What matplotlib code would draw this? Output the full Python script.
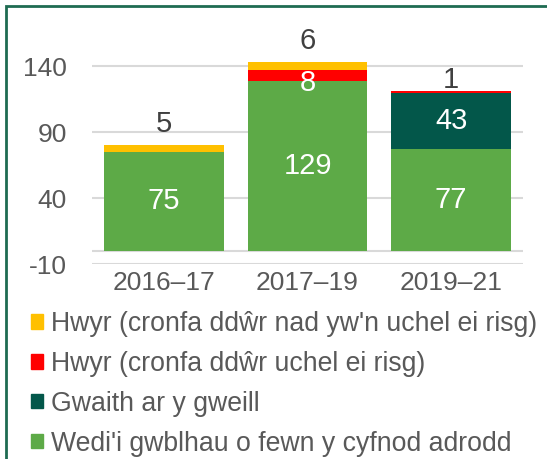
import matplotlib
matplotlib.use("Agg")
import matplotlib.pyplot as plt
from matplotlib.patches import Rectangle, Patch
import numpy as np

plt.rcParams['font.family'] = ['Liberation Sans', 'DejaVu Sans']
plt.rcParams['axes.unicode_minus'] = False

categories = ["2016–17", "2017–19", "2019–21"]
completed = [75, 129, 77]
ongoing = [0, 0, 43]
late_high = [0, 8, 1]
late_not_high = [5, 6, 0]

series_names = [
    "Hwyr (cronfa ddŵr nad yw'n uchel ei risg)",
    "Hwyr (cronfa ddŵr uchel ei risg)",
    "Gwaith ar y gweill",
    "Wedi'i gwblhau o fewn y cyfnod adrodd",
]
yticks = [-10, 40, 90, 140]

c_yellow = "#FFC000"
c_red = "#FF0000"
c_dark = "#03574A"
c_green = "#5DAA47"
text_gray = "#595959"

W, H = 547, 459
fig = plt.figure(figsize=(W / 100, H / 100), dpi=100)
ax = fig.add_axes([92 / W, (H - 264) / H, 431 / W, 224 / H])

x = np.arange(len(categories))
bw = 0.835
b1 = np.array(completed, dtype=float)
b2 = b1 + np.array(ongoing)
b3 = b2 + np.array(late_high)

ax.bar(x, completed, bw, color=c_green, zorder=2)
ax.bar(x, ongoing, bw, bottom=b1, color=c_dark, zorder=2)
ax.bar(x, late_high, bw, bottom=b2, color=c_red, zorder=2)
ax.bar(x, late_not_high, bw, bottom=b3, color=c_yellow, zorder=2)

fs_lab = 21
for i in range(len(x)):
    ax.text(x[i], completed[i] / 2, str(completed[i]), ha="center", va="center",
            color="white", fontsize=fs_lab, zorder=3)
    if ongoing[i] > 0:
        ax.text(x[i], b1[i] + ongoing[i] / 2, str(ongoing[i]), ha="center", va="center",
                color="white", fontsize=fs_lab, zorder=3)
    if late_high[i] >= 5:
        ax.text(x[i], b2[i] + late_high[i] / 2 - 6, str(late_high[i]), ha="center", va="center",
                color="white", fontsize=fs_lab, zorder=3)
    total = b3[i] + late_not_high[i]
    if late_not_high[i] > 0:
        ax.text(x[i], total + 16, str(late_not_high[i]), ha="center", va="center",
                color="#404040", fontsize=fs_lab, zorder=3, clip_on=False)
    elif 0 < late_high[i] < 5:
        ax.text(x[i], total + 9, str(late_high[i]), ha="center", va="center",
                color="#404040", fontsize=fs_lab, zorder=3, clip_on=False)

ax.set_xlim(-0.5, 2.5)
ax.set_ylim(-10, 160)
ax.set_yticks(yticks)
ax.set_xticks(x)
ax.set_xticklabels(categories)
ax.axhline(0, color="#D9D9D9", lw=1.5, zorder=1)
ax.grid(axis="y", color="#D9D9D9", lw=1.5, zorder=0)
for s in ax.spines.values():
    s.set_visible(False)
ax.tick_params(axis="both", length=0, labelsize=19, colors=text_gray)
ax.tick_params(axis="y", pad=18)
ax.tick_params(axis="x", pad=5)

handles = [Patch(color=c) for c in [c_yellow, c_red, c_dark, c_green]]
fig.legend(handles, series_names, loc="upper left", bbox_to_anchor=(31 / W, 1 - 311 / H),
           frameon=False, fontsize=19.2, labelcolor=text_gray, handlelength=0.46,
           handleheight=0.46, handletextpad=0.3, labelspacing=0.52, borderaxespad=0,
           borderpad=0)

fig.patches.append(Rectangle((6 / W, -0.05), 1.2, 1 - 6 / H + 0.05, transform=fig.transFigure,
                             fill=False, edgecolor="#1E6B52", lw=2, zorder=10))

fig.savefig("out.png", dpi=100)
